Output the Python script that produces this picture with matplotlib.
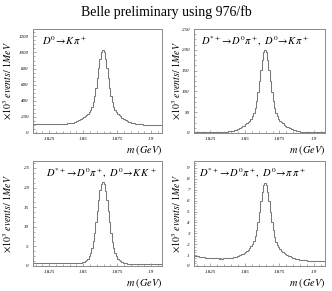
import matplotlib
matplotlib.use("Agg")
import matplotlib.pyplot as plt
import numpy as np

# binning: 1 MeV bins of the D0 candidate mass (GeV)
mass_lo = 1.813
bin_w = 0.001

# counts per bin (x10^3 events / 1 MeV)
kpi_incl = [115, 115, 115, 115, 114, 114, 114, 114, 114, 114,
            113, 113, 113, 113, 113, 113, 112, 112, 112, 113,
            114, 115, 115, 116, 117, 119, 121, 124, 128, 130,
            135, 141, 148, 156, 164, 174, 184, 196, 209, 223,
            240, 259, 287, 327, 382, 460, 561, 680, 808, 921,
            1001, 1030, 1001, 921, 807, 679, 559, 458, 380, 325,
            284, 256, 236, 219, 205, 192, 179, 169, 158, 150,
            142, 135, 128, 123, 120, 116, 113, 111, 109, 107,
            106, 105, 104, 103, 102, 101, 101, 101, 101, 101,
            101, 100, 100, 100, 100]

kpi_dstar = [2.0, 2.0, 2.0, 2.0, 2.0, 2.0, 2.0, 2.0, 2.0, 2.0,
             2.0, 2.0, 2.0, 2.0, 2.0, 2.0, 2.0, 2.0, 2.0, 2.3,
             2.3, 2.5, 2.7, 2.9, 3.2, 3.6, 4.1, 4.7, 5.5, 6.3,
             7.3, 8.6, 10.0, 11.8, 13.6, 15.8, 17.9, 20.5, 23.3, 26.5,
             29.9, 34.3, 40.2, 48.7, 60.6, 77.2, 99.0, 124.8, 152.1, 176.4,
             193.7, 199.8, 193.7, 176.4, 152.1, 124.8, 99.0, 77.2, 60.6, 48.7,
             40.1, 34.2, 29.8, 26.3, 23.1, 20.3, 17.7, 15.6, 13.4, 11.6,
             9.8, 8.4, 7.1, 6.1, 5.3, 4.5, 3.9, 3.4, 3.0, 2.7,
             2.4, 2.2, 2.0, 1.9, 1.8, 1.7, 1.7, 1.6, 1.6, 1.6,
             1.6, 1.6, 1.6, 1.6, 1.6]

kk_dstar = [0.75, 0.75, 0.74, 0.74, 0.74, 0.73, 0.73, 0.72, 0.72, 0.72,
            0.71, 0.71, 0.71, 0.70, 0.70, 0.69, 0.69, 0.69, 0.68, 0.68,
            0.68, 0.67, 0.67, 0.66, 0.66, 0.66, 0.65, 0.65, 0.65, 0.66,
            0.68, 0.70, 0.71, 0.75, 0.79, 0.85, 0.95, 1.07, 1.26, 1.53,
            1.90, 2.50, 3.39, 4.59, 6.29, 8.48, 11.18, 13.98, 16.87, 19.27,
            20.87, 21.46, 20.86, 19.25, 16.85, 13.95, 11.14, 8.44, 6.24, 4.53,
            3.33, 2.42, 1.82, 1.44, 1.16, 0.97, 0.84, 0.73, 0.67, 0.62,
            0.57, 0.55, 0.52, 0.50, 0.48, 0.47, 0.47, 0.46, 0.46, 0.46,
            0.45, 0.45, 0.45, 0.44, 0.44, 0.44, 0.43, 0.43, 0.43, 0.42,
            0.42, 0.42, 0.41, 0.41, 0.40]

pipi_dstar = [1.00, 0.96, 0.92, 0.89, 0.86, 0.83, 0.80, 0.78, 0.76, 0.75,
              0.74, 0.73, 0.72, 0.71, 0.70, 0.70, 0.69, 0.69, 0.68, 0.69,
              0.68, 0.69, 0.70, 0.70, 0.71, 0.72, 0.74, 0.76, 0.79, 0.82,
              0.85, 0.90, 0.94, 1.00, 1.07, 1.14, 1.22, 1.30, 1.40, 1.51,
              1.63, 1.79, 2.00, 2.29, 2.71, 3.31, 4.07, 4.99, 5.96, 6.82,
              7.43, 7.65, 7.43, 6.81, 5.94, 4.96, 4.04, 3.27, 2.66, 2.24,
              1.93, 1.72, 1.56, 1.42, 1.31, 1.21, 1.12, 1.03, 0.96, 0.89,
              0.82, 0.77, 0.72, 0.68, 0.65, 0.61, 0.59, 0.57, 0.55, 0.54,
              0.53, 0.52, 0.50, 0.49, 0.49, 0.48, 0.48, 0.47, 0.47, 0.47,
              0.46, 0.46, 0.46, 0.45, 0.45]

labels = [r"$D^0\!\rightarrow\! K\,\pi^+$",
          r"$D^{*+}\!\rightarrow\! D^0\pi^+,\ D^0\!\rightarrow\! K\,\pi^+$",
          r"$D^{*+}\!\rightarrow\! D^0\pi^+,\ D^0\!\rightarrow\! K\,K^+$",
          r"$D^{*+}\!\rightarrow\! D^0\pi^+,\ D^0\!\rightarrow\! \pi\,\pi^+$"]

x_ticks = [1.825, 1.85, 1.875, 1.9]
x_ticklabels = ["1.825", "1.85", "1.875", "1.9"]
y_ticks = [[0, 200, 400, 600, 800, 1000, 1200],
           [0, 50, 100, 150, 200, 250],
           [0, 5, 10, 15, 20, 25],
           [0, 1, 2, 3, 4, 5, 6, 7, 8, 9]]
y_top = [1290, 250, 26.8, 9.65]

plt.rcParams['font.family'] = 'serif'
plt.rcParams['font.serif'] = ['Liberation Serif', 'DejaVu Serif']
plt.rcParams['mathtext.fontset'] = 'stix'

fig = plt.figure(figsize=(3.32, 2.91), dpi=100)
fig.patch.set_facecolor('white')

# axes boxes (left, bottom, width, height) in figure fractions
boxes = [[0.099, 0.543, 0.389, 0.357],
         [0.584, 0.543, 0.395, 0.357],
         [0.099, 0.086, 0.389, 0.361],
         [0.584, 0.086, 0.395, 0.361]]
text_x = [0.07, 0.053, 0.10, 0.04]
ylab_x = [-0.194, -0.13, -0.194, -0.13]
series = [kpi_incl, kpi_dstar, kk_dstar, pipi_dstar]
frame_col = '#8a8a8a'
line_col = '#787878'

for k in range(4):
    ax = fig.add_axes(boxes[k])
    counts = np.array(series[k])
    edges = mass_lo + bin_w * np.arange(len(counts) + 1)
    ax.stairs(counts, edges, color=line_col, lw=0.75)
    ax.set_xlim(edges[0], edges[-1])
    ax.set_ylim(0, y_top[k])
    ax.set_xticks(x_ticks)
    ax.set_xticklabels(x_ticklabels)
    ax.set_yticks(y_ticks[k])
    ax.set_xticks(np.arange(1.815, 1.908, 0.005), minor=True)
    ystep = y_ticks[k][1] / 4
    ax.set_yticks(np.arange(0, y_top[k], ystep), minor=True)
    ax.tick_params(which='both', direction='in', colors=frame_col,
                   labelcolor='black', labelsize=3.6, pad=3, width=0.5)
    ax.tick_params(which='major', length=2.5)
    ax.tick_params(which='minor', length=1.3)
    for lab in ax.get_xticklabels() + ax.get_yticklabels():
        lab.set_fontstyle('italic')
    for sp in ax.spines.values():
        sp.set_color(frame_col)
        sp.set_linewidth(0.7)
    ax.text(text_x[k], 0.95, labels[k], transform=ax.transAxes,
            ha='left', va='top', fontsize=7.6)
    ax.text(ylab_x[k], 0.5, r"$\times\mathit{10^{3}\ events/\ 1MeV}$",
            transform=ax.transAxes, rotation=90, ha='center', va='center',
            fontsize=7.1)
    ax.text(1.0, -0.16, r"$\mathit{m\ (GeV)}$", transform=ax.transAxes,
            ha='right', va='center', fontsize=7.4)

fig.text(0.5, 0.958, "Belle preliminary using 976/fb", ha='center', va='center',
         fontsize=10)

fig.savefig('out.png', dpi=100, facecolor='white')
